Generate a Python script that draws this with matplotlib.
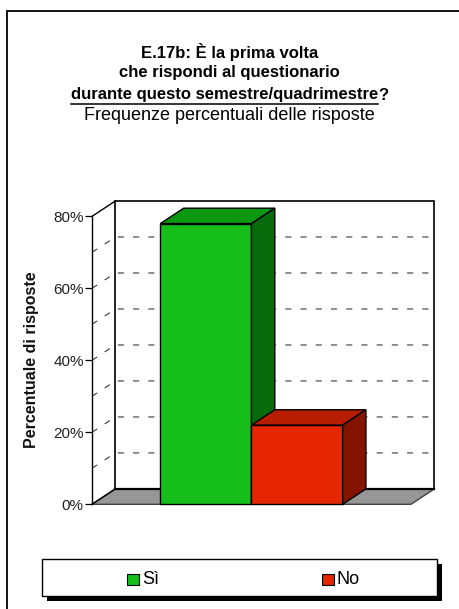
import numpy as np
import matplotlib
matplotlib.use("Agg")
import matplotlib.pyplot as plt
from matplotlib.patches import Polygon, Rectangle
from matplotlib.lines import Line2D

W, H = 459, 609
categories = ["Sì", "No"]
values = [78, 22]
front_colors = ["#16be1a", "#e52600"]
top_colors = ["#0d9812", "#b71e00"]
side_colors = ["#076b0b", "#821400"]
yticks = [0, 20, 40, 60, 80]
ytick_labels = ["0%", "20%", "40%", "60%", "80%"]
grid_levels = [10, 20, 30, 40, 50, 60, 70]

title_lines = ["E.17b: È la prima volta", "che rispondi al questionario"]
title_under = "durante questo semestre/quadrimestre"
subtitle = "Frequenze percentuali delle risposte"
ylabel = "Percentuale di risposte"

plt.rcParams['font.family'] = ['Liberation Sans', 'DejaVu Sans']

fig = plt.figure(figsize=(W / 100, H / 100), dpi=100)


def fx(px):
    return px / W


def fy(py):
    return 1 - py / H


# outer frame
fig.patches.append(Rectangle((fx(7), fy(640)), fx(500), fy(11) - fy(640),
                             transform=fig.transFigure, fill=False,
                             edgecolor='black', lw=1.3))

# 3d plot area
x0, x1 = -1.25, 2.25
DX, DY = 0.256, 4.27
ymax = 80
ax_l, ax_r, ax_b, ax_t = 92, 434.3, 504.3, 201
ax = fig.add_axes([fx(ax_l), fy(ax_b), fx(ax_r) - fx(ax_l), fy(ax_t) - fy(ax_b)])
ax.set_xlim(x0, x1 + DX)
ax.set_ylim(0, ymax + DY)
for s in ax.spines.values():
    s.set_visible(False)
ax.patch.set_visible(False)
ax.set_xticks([])
ax.set_yticks(yticks)
ax.set_yticklabels(ytick_labels, fontsize=11, color='#222222')
ax.tick_params(axis='y', length=5, width=0.9, pad=1)

# back wall
ax.add_patch(Rectangle((x0 + DX, DY), x1 - x0, ymax, facecolor='white',
                       edgecolor='black', lw=1.2, zorder=1, clip_on=False))
# floor
ax.add_patch(Polygon([(x0, 0), (x1, 0), (x1 + DX, DY), (x0 + DX, DY)],
                     closed=True, facecolor='#969696', edgecolor='#404040',
                     lw=1.0, zorder=2, clip_on=False))
ax.plot([x0 + DX, x1 + DX], [DY, DY], color='black', lw=1.6, zorder=2.5,
        clip_on=False)

# gridlines
for g in grid_levels:
    ax.plot([x0, x0 + DX, x1 + DX], [g, g + DY, g + DY], color='#3a3a3a',
            lw=0.8, dashes=(5.5, 8.2), zorder=1.5, clip_on=False)

# left axis
ax.plot([x0, x0], [0, ymax], color='black', lw=1.0, zorder=3, clip_on=False)
ax.plot([x0, x0 + DX], [ymax, ymax + DY], color='black', lw=1.0, zorder=3,
        clip_on=False)
ax.plot([x0, x0 + DX], [0, DY], color='black', lw=1.0, zorder=3,
        clip_on=False)

# bars
for i, v in enumerate(values):
    l, r = i - 0.5, i + 0.5
    ax.add_patch(Rectangle((l, 0), 1, v, facecolor=front_colors[i],
                           edgecolor='black', lw=1.0, zorder=4 + i,
                           clip_on=False))
    ax.add_patch(Polygon([(l, v), (r, v), (r + DX, v + DY), (l + DX, v + DY)],
                         closed=True, facecolor=top_colors[i],
                         edgecolor='black', lw=1.0, zorder=4 + i,
                         clip_on=False))
    ax.add_patch(Polygon([(r, 0), (r + DX, DY), (r + DX, v + DY), (r, v)],
                         closed=True, facecolor=side_colors[i],
                         edgecolor='black', lw=1.0, zorder=4 + i,
                         clip_on=False))

ax.set_ylabel(ylabel, fontsize=11.5, fontweight='bold', color='#111111')
ax.yaxis.set_label_coords((39 - ax_l) / (ax_r - ax_l),
                          (ax_b - 360) / (ax_b - ax_t))

# title
tsize = 12
fig.text(0.5, fy(52), title_lines[0], ha='center', va='center',
         fontsize=tsize, fontweight='bold')
fig.text(0.5, fy(73), title_lines[1], ha='center', va='center',
         fontsize=tsize, fontweight='bold')
fig.text(0.5, fy(116), subtitle, ha='center', va='center', fontsize=13)

renderer = fig.canvas.get_renderer()
ta = fig.text(0, fy(95), title_under, ha='left', va='center',
              fontsize=tsize, fontweight='bold')
tb = fig.text(0, fy(95), "?", ha='left', va='center',
              fontsize=tsize, fontweight='bold')
wa = ta.get_window_extent(renderer).width
wb = tb.get_window_extent(renderer).width
start = (W - wa - wb) / 2
ta.set_x(fx(start))
tb.set_x(fx(start + wa))
ea = ta.get_window_extent(renderer)
fig.lines.append(Line2D([fx(ea.x0), fx(ea.x1)], [fy(103.5), fy(103.5)],
                        transform=fig.transFigure, color='black', lw=1.1))

# legend
fig.patches.append(Rectangle((fx(47), fy(601)), fx(395), fy(564) - fy(601),
                             transform=fig.transFigure, facecolor='black',
                             edgecolor='none'))
fig.patches.append(Rectangle((fx(42.3), fy(596)), fx(395), fy(559.3) - fy(596),
                             transform=fig.transFigure, facecolor='white',
                             edgecolor='black', lw=1.0))
leg_x = [127, 322]
for i, c in enumerate(categories):
    fig.patches.append(Rectangle((fx(leg_x[i]), fy(585)), fx(11.5), fy(573.5) - fy(585),
                                 transform=fig.transFigure,
                                 facecolor=front_colors[i], edgecolor='black',
                                 lw=0.8))
    fig.text(fx(leg_x[i] + 15), fy(579.5), c, ha='left', va='center',
             fontsize=13)

fig.savefig("out.png", dpi=100)
